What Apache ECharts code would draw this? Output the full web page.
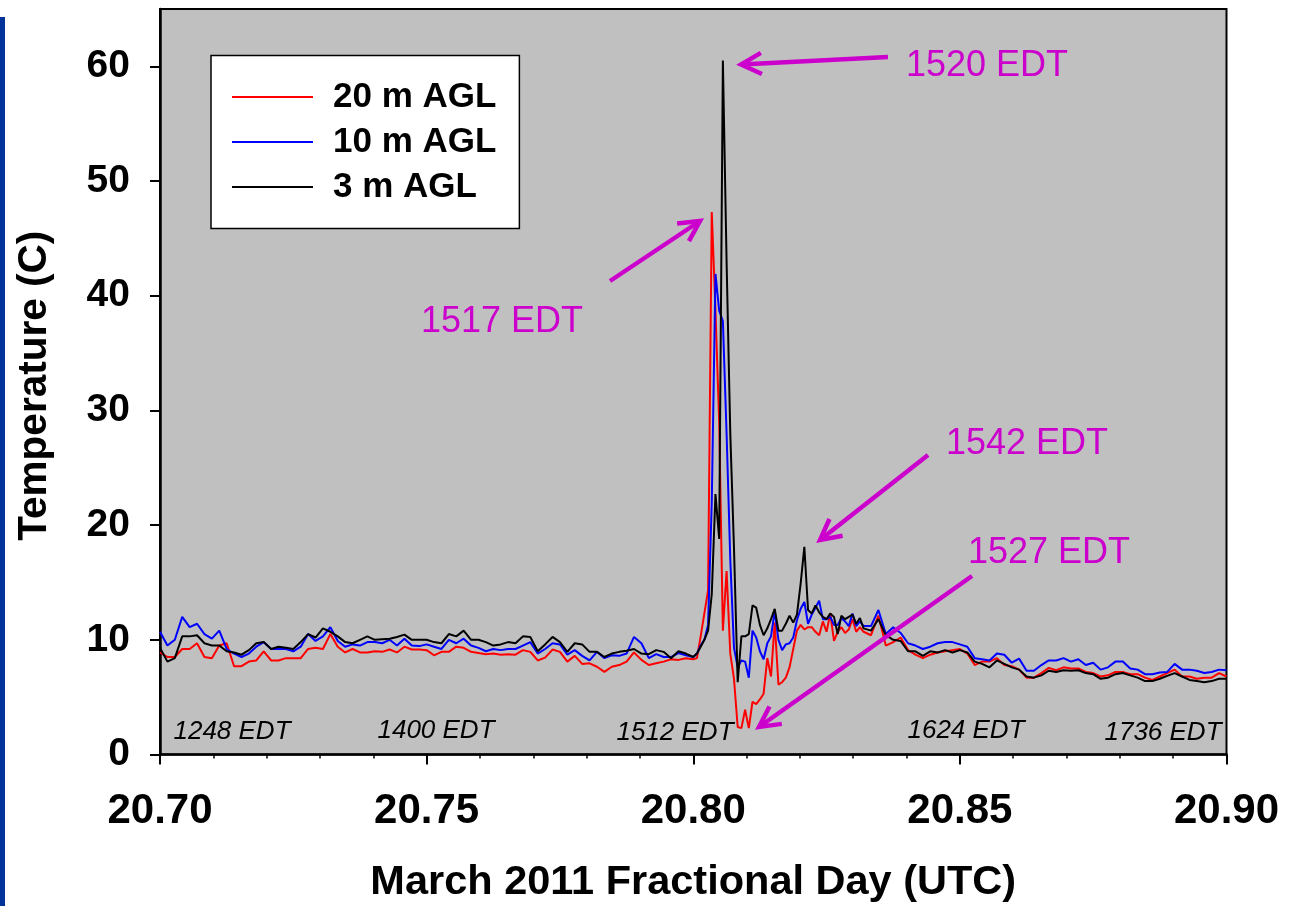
<!DOCTYPE html>
<html>
<head>
<meta charset="utf-8">
<title>Tower temperatures, 20 March 2011</title>
<script src="https://cdn.jsdelivr.net/npm/echarts@6.0.0/dist/echarts.min.js"></script>
<style>
  html, body { margin: 0; padding: 0; background: #ffffff; }
  #chart { width: 1297px; height: 906px; }
</style>
</head>
<body>
<div id="chart"></div>
<script>
// Sample times, minutes after 16:48 UTC (day 20.70)
const minutes = [
  0,2,4,6,8,10,12,14,16,18,20,22,24,26,28,30,32,34,36,38,40,42,44,46,48,50,52,54,56,58,
  60,62,64,66,68,70,72,74,76,78,80,82,84,86,88,90,92,94,96,98,100,102,104,106,108,110,112,114,
  116,118,120,122,124,126,128,130,132,134,136,138,140,142,144,
  145,146,147,148,149,150,151,152,153,154,155,156,157,158,159,160,161,162,163,164,165,166,167,168,169,170,
  171,172,173,174,175,176,177,178,179,180,181,182,183,184,185,186,187,188,189,190,
  192,194,196,198,200,202,204,206,208,210,212,214,216,218,220,222,224,226,228,230,
  232,234,236,238,240,242,244,246,248,250,252,254,256,258,260,262,264,266,268,270,272,274,276,278,280,282,284,286,288
];

// Temperature (C) at 20 m AGL
const temp20m = [
  8.9,8.5,8.5,9.2,9.2,9.7,8.5,8.4,9.5,9.7,7.7,7.7,8.1,8.2,9.0,8.2,8.2,8.4,8.4,8.4,9.2,9.3,9.2,10.5,9.4,8.9,9.2,8.9,8.9,9.0,
  8.95,9.15,8.9,9.4,9.15,9.15,9.1,8.65,8.95,8.95,9.4,9.3,8.95,8.85,8.75,8.8,8.7,8.75,8.7,9.1,8.95,8.2,8.45,9.15,8.95,8.1,8.6,7.9,
  7.95,7.65,7.2,7.65,7.8,8.1,8.9,8.25,7.8,7.95,8.1,8.3,8.25,8.4,8.3,
  8.4,10.3,12.3,14.3,47.3,38.7,29.0,10.8,16.0,8.8,6.6,2.4,2.3,3.9,2.3,4.6,4.4,4.8,5.3,8.4,6.8,11.5,6.1,6.3,6.7,7.6,
  9.2,10.8,11.3,10.9,11.1,11.1,10.7,10.4,11.6,10.7,12.3,9.9,10.7,11.1,10.6,10.9,11.8,10.7,11.1,10.7,
  10.4,12.1,9.5,9.8,10.2,9.1,8.7,8.4,8.7,8.9,9.0,9.1,9.2,8.8,7.8,8.1,8.1,8.4,7.8,7.7,
  7.4,6.7,6.7,7.1,7.55,7.35,7.6,7.5,7.5,7.2,7.1,6.8,6.9,7.2,7.2,7.0,7.0,6.7,6.5,6.8,7.1,7.4,6.8,6.8,6.6,6.7,6.7,7.1,6.8
];

// Temperature (C) at 10 m AGL
const temp10m = [
  10.7,9.5,10.0,12.0,11.1,11.4,10.5,10.1,10.8,9.2,8.8,8.5,8.8,9.4,9.8,9.2,9.2,9.2,9.0,9.4,10.5,9.9,10.3,11.1,9.9,9.4,9.6,9.5,9.8,9.8,
  9.7,10.0,9.5,10.1,9.5,9.45,9.6,9.4,9.2,10.0,9.7,10.1,9.5,9.3,9.0,9.2,9.1,9.2,9.2,9.5,9.8,8.8,9.2,9.7,9.6,8.7,9.1,8.6,
  8.2,8.95,8.4,8.65,8.6,8.8,10.25,9.7,8.4,8.75,8.5,8.5,8.85,8.65,8.5,
  8.8,9.5,10.0,11.3,22.0,41.9,38.7,37.8,28.0,17.0,9.3,7.6,8.2,8.1,6.7,10.8,10.2,9.0,8.3,9.7,10.3,12.5,10.0,9.1,9.6,9.7,
  10.2,11.7,12.7,13.3,11.4,12.2,12.8,13.4,11.8,11.8,12.0,11.3,11.3,11.9,11.6,11.2,12.3,11.2,11.6,11.2,
  11.2,12.6,10.5,11.1,10.6,9.7,9.5,9.2,9.4,9.7,9.8,9.8,9.6,9.4,8.4,8.3,8.2,8.8,8.7,8.0,
  8.36,7.3,7.3,7.8,8.2,8.2,8.4,8.1,8.3,7.8,8.0,7.4,7.6,8.1,8.1,7.5,7.4,7.0,7.0,7.15,7.2,7.9,7.4,7.4,7.3,7.1,7.2,7.4,7.35
];

// Temperature (C) at 3 m AGL
const temp3m = [
  9.3,8.1,8.4,10.3,10.3,10.4,9.7,9.5,9.5,9.0,8.9,8.7,9.1,9.7,9.8,9.2,9.4,9.3,9.2,9.8,10.5,10.2,11.0,10.7,10.3,9.8,9.7,10.0,10.3,10.0,
  10.05,10.1,10.25,10.45,10.0,10.0,10.0,9.8,9.7,10.5,10.3,10.8,10.0,10.0,9.8,9.5,9.6,9.8,9.7,10.3,10.25,9.0,9.6,10.25,9.8,8.95,9.7,9.6,
  8.95,8.95,8.5,8.8,8.95,9.05,9.2,8.8,8.75,9.1,8.95,8.4,9.0,8.8,8.5,
  8.8,9.4,10.0,10.8,14.0,22.7,18.8,60.5,43.0,28.0,18.0,6.3,10.3,10.3,10.5,13.0,12.8,11.3,10.4,11.0,11.8,12.7,10.8,10.8,11.4,12.1,
  11.5,12.2,14.9,18.1,12.6,12.3,13.0,12.4,12.0,11.8,12.3,12.0,10.5,12.1,11.8,12.0,12.2,11.4,11.9,11.0,
  10.8,11.8,10.4,10.0,9.9,9.0,9.0,8.6,9.0,8.9,9.1,8.9,9.1,8.9,8.1,7.9,7.6,8.2,7.9,7.6,
  7.4,6.8,6.7,6.9,7.3,7.2,7.35,7.3,7.35,7.1,7.0,6.6,6.7,7.0,7.1,6.9,6.7,6.4,6.4,6.6,6.85,7.1,6.8,6.5,6.4,6.3,6.4,6.6,6.6
];

const seriesNames = ['20 m AGL', '10 m AGL', '3 m AGL'];
const seriesColors = ['#ff0000', '#0000ff', '#000000'];
const xTicks = [20.70, 20.75, 20.80, 20.85, 20.90];
const yTicks = [0, 10, 20, 30, 40, 50, 60];

// Local clock times written along the bottom of the plot
const clockLabels = ['1248 EDT', '1400 EDT', '1512 EDT', '1624 EDT', '1736 EDT'];
const clockLabelPos = [[232, 732], [436, 731], [675, 733], [966, 731], [1163, 733]];

// Callouts: label text, label centre, arrow tail, arrow tip (pixels)
const calloutLabels = ['1520 EDT', '1517 EDT', '1542 EDT', '1527 EDT'];
const calloutTextPos = [[987, 66], [502, 322], [1027, 444], [1049, 553]];
const calloutArrows = [
  [[888, 57], [741, 64.5]],
  [[610, 281], [700, 221]],
  [[928, 455], [820, 540]],
  [[972, 576], [759, 727]]
];

const FONT = "'Liberation Sans', Arial, Helvetica, sans-serif";
const MAGENTA = '#cc00cc';
const dayOf = m => 20.70 + m / 1440;

function seriesData(values) {
  return minutes.map((m, i) => [dayOf(m), values[i]]);
}

function arrowHead(tail, tip) {
  const ang = Math.atan2(tail[1] - tip[1], tail[0] - tip[0]);
  const len = 23, spread = 0.48;
  return [
    [tip[0] + len * Math.cos(ang + spread), tip[1] + len * Math.sin(ang + spread)],
    [tip[0], tip[1]],
    [tip[0] + len * Math.cos(ang - spread), tip[1] + len * Math.sin(ang - spread)]
  ];
}

const graphics = [
  // slide accent bar on the left edge
  { type: 'rect', z: 100, shape: { x: 0, y: 17, width: 5, height: 889 }, style: { fill: '#003399' } }
];

clockLabels.forEach((txt, i) => {
  graphics.push({
    type: 'text', z: 100, x: clockLabelPos[i][0], y: clockLabelPos[i][1],
    style: { text: txt, fill: '#000', font: 'italic 26px ' + FONT, textAlign: 'center', textVerticalAlign: 'middle' }
  });
});

calloutLabels.forEach((txt, i) => {
  graphics.push({
    type: 'text', z: 100, x: calloutTextPos[i][0], y: calloutTextPos[i][1],
    style: { text: txt, fill: MAGENTA, font: '36px ' + FONT, textAlign: 'center', textVerticalAlign: 'middle' }
  });
  const [tail, tip] = calloutArrows[i];
  graphics.push({
    type: 'polyline', z: 100, shape: { points: [tail, tip] },
    style: { stroke: MAGENTA, lineWidth: 4.5, fill: null }
  });
  graphics.push({
    type: 'polyline', z: 100, shape: { points: arrowHead(tail, tip) },
    style: { stroke: MAGENTA, lineWidth: 4.5, fill: null, lineJoin: 'miter' }
  });
});

const chart = echarts.init(document.getElementById('chart'), null, { renderer: 'canvas' });

chart.setOption({
  animation: false,
  backgroundColor: '#ffffff',
  grid: {
    left: 160, top: 9, right: 70.5, bottom: 151.5,
    show: true, backgroundColor: '#c0c0c0', borderColor: '#000', borderWidth: 2,
    containLabel: false, outerBoundsMode: 'none'
  },
  legend: {
    orient: 'vertical', left: 211, top: 55.5,
    data: seriesNames.map(n => ({ name: n, icon: 'rect' })),
    backgroundColor: '#ffffff', borderColor: '#000', borderWidth: 1.5, borderRadius: 0,
    padding: [24, 23, 24, 21],
    itemWidth: 81, itemHeight: 2, itemGap: 10,
    selectedMode: false,
    textStyle: { fontFamily: FONT, fontWeight: 'bold', fontSize: 35, lineHeight: 35, color: '#000', padding: [0, 0, 0, 15] }
  },
  xAxis: {
    type: 'value', min: 20.70, max: 20.90, interval: 0.05,
    name: 'March 2011 Fractional Day (UTC)', nameLocation: 'middle', nameGap: 107,
    nameTextStyle: { fontFamily: FONT, fontWeight: 'bold', fontSize: 41.5, color: '#000' },
    axisLine: { show: true, onZero: false, lineStyle: { color: '#000', width: 2.5 } },
    axisTick: { show: true, inside: false, length: 10, lineStyle: { color: '#000', width: 2 }, customValues: xTicks },
    minorTick: { show: true, splitNumber: 5, length: 4, lineStyle: { color: '#000', width: 1.5 } },
    axisLabel: {
      show: true, margin: 36, customValues: xTicks,
      fontFamily: FONT, fontWeight: 'bold', fontSize: 42, color: '#000',
      formatter: v => Number(v).toFixed(2)
    },
    splitLine: { show: false }, minorSplitLine: { show: false }
  },
  yAxis: {
    type: 'value', min: 0, max: 65, interval: 10,
    name: 'Temperature (C)', nameLocation: 'middle', nameGap: 105, nameRotate: 90,
    nameTextStyle: { fontFamily: FONT, fontWeight: 'bold', fontSize: 40.5, color: '#000', padding: [0, 8, 0, 0] },
    axisLine: { show: true, onZero: false, lineStyle: { color: '#000', width: 2.5 } },
    axisTick: { show: true, inside: false, length: 10, lineStyle: { color: '#000', width: 2 }, customValues: yTicks },
    axisLabel: {
      show: true, margin: 30, customValues: yTicks,
      fontFamily: FONT, fontWeight: 'bold', fontSize: 39, color: '#000'
    },
    splitLine: { show: false }
  },
  series: [temp20m, temp10m, temp3m].map((vals, i) => ({
    name: seriesNames[i],
    type: 'line',
    data: seriesData(vals),
    symbol: 'none',
    showSymbol: false,
    smooth: false,
    clip: true,
    lineStyle: { color: seriesColors[i], width: 2 },
    itemStyle: { color: seriesColors[i] },
    emphasis: { disabled: true },
    z: 2 + i
  })),
  graphic: graphics
});
</script>
</body>
</html>
